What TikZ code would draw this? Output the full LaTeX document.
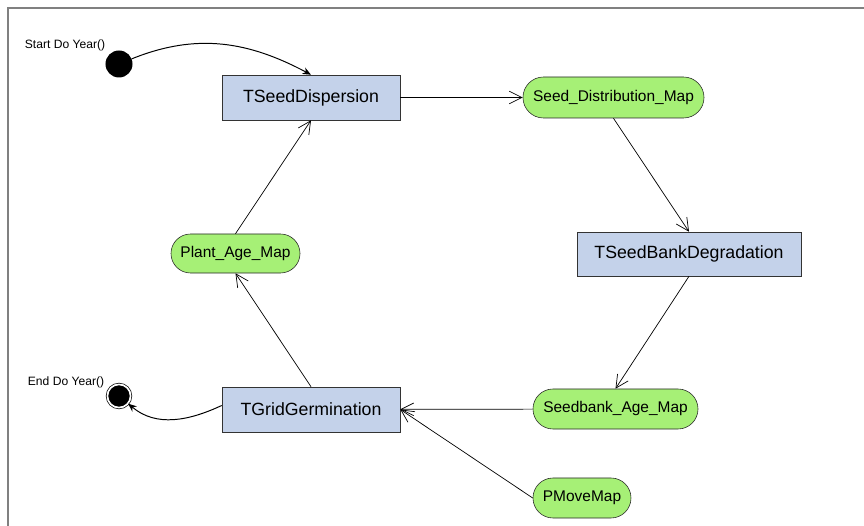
\documentclass[tikz,border=0pt]{standalone}
\usepackage{fontspec}
\setmainfont{Liberation Sans}
\usetikzlibrary{arrows.meta,shapes.misc}
\definecolor{procblue}{RGB}{196,210,234}
\definecolor{mapgreen}{RGB}{166,240,118}
\definecolor{framegray}{RGB}{128,128,128}
\tikzset{
  proc/.style={rectangle,draw=black!80,fill=procblue,inner sep=0pt,font=\fontsize{12.6}{14}\selectfont},
  datamap/.style={rounded rectangle,draw=black!85,fill=mapgreen,inner sep=0pt,minimum height=1cm,font=\fontsize{11}{13}\selectfont},
  flow/.style={-{Straight Barb[length=9pt,width=9pt]},line width=0.5pt},
  curv/.style={-{Stealth[length=6pt,width=5pt]},line width=0.7pt},
  small/.style={font=\fontsize{8.6}{10}\selectfont}
}
\begin{document}
\begin{tikzpicture}[x=0.025cm,y=0.025cm]
\useasboundingbox (0,0) rectangle (864,526);
\draw[framegray,line width=0.8pt] (8,0)--(8,518)--(864,518);
\node[circle,fill=black,inner sep=0pt,minimum size=0.675cm] (start) at (119,462) {};
\node[small] (startlbl) at (65,481) {Start Do Year()};
\node[circle,fill=black,draw=black,double=white,double distance=1.2pt,line width=0.5pt,inner sep=0pt,minimum size=0.58cm] (end) at (119,130) {};
\node[small] (endlbl) at (66,144) {End Do Year()};
\node[proc,minimum width=4.45cm,minimum height=1.125cm] (tsd) at (311,428.5) {TSeedDispersion};
\node[datamap,minimum width=4.525cm,minimum height=1.025cm] (sdm) at (613.5,428.5) {Seed\_Distribution\_Map};
\node[proc,minimum width=5.6cm,minimum height=1.1cm] (sbd) at (689,272) {TSeedBankDegradation};
\node[datamap,minimum width=4.125cm] (sam) at (615.5,117) {Seedbank\_Age\_Map};
\node[datamap,minimum width=2.45cm] (pmm) at (582,28) {PMoveMap};
\node[datamap,minimum width=3.225cm,minimum height=0.975cm] (pam) at (235.5,272.5) {Plant\_Age\_Map};
\node[proc,minimum width=4.45cm,minimum height=1.125cm] (tgg) at (311,116.5) {TGridGermination};
\draw[curv] (start) to[out=22,in=152] (tsd.north);
\draw[flow] (tsd) -- (sdm);
\draw[flow] (sdm.south) -- (sbd.north);
\draw[flow] (sbd.south) -- (sam.north);
\draw[flow] (sam) -- (tgg);
\draw[flow] (pmm.west) -- (tgg.east);
\draw[flow] (tgg.north) -- (pam.south);
\draw[flow] (pam.north) -- (tsd.south);
\draw[curv] ([yshift=0.1cm]tgg.west) to[out=205,in=-40] (end);
\end{tikzpicture}
\end{document}
